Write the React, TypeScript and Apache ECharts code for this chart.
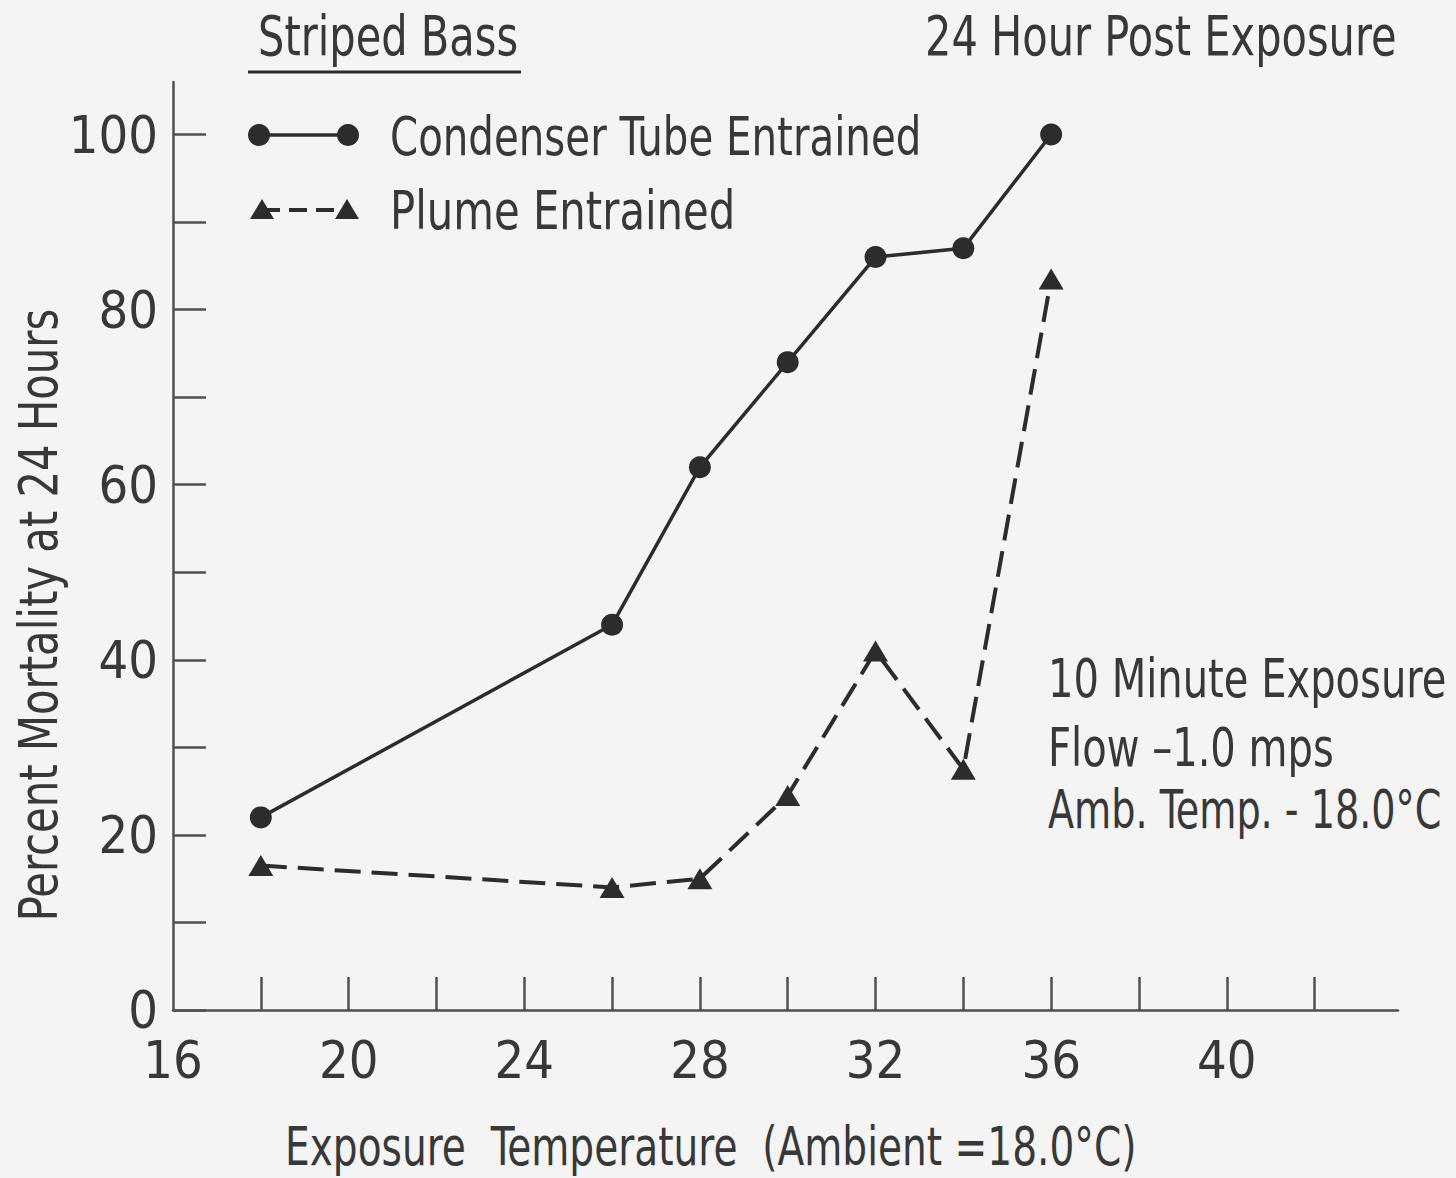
import React, { useEffect, useRef } from "react";
import * as echarts from "echarts";

// Striped bass mortality 24 h after a 10 minute exposure
const temperatures = [18, 26, 28, 30, 32, 34, 36];
const condenserTube = [22, 44, 62, 74, 86, 87, 100];
const plume = [16.5, 14, 15, 24.5, 41, 27.5, 83.5];

// Axis ticks and labelled values
const xTicks = [18, 20, 22, 24, 26, 28, 30, 32, 34, 36, 38, 40, 42];
const xLabels = [16, 20, 24, 28, 32, 36, 40];
const yTicks = [0, 10, 20, 30, 40, 50, 60, 70, 80, 90, 100];
const yLabels = [0, 20, 40, 60, 80, 100];

const FONT = '"Liberation Sans Narrow", "DejaVu Sans Condensed", "Roboto Condensed", sans-serif';
const INK = "#2c2c2c";
const TEXT = "#383838";
const AXIS = "#505050";
const PAPER = "#f4f4f4";
// lettering is drawn narrower than the installed faces
const NARROW = 0.84;

function pairs(ys: number[]) {
  return temperatures.map((t, i) => [t, ys[i]]);
}

export default function App() {
  const ref = useRef<HTMLDivElement>(null);

  useEffect(() => {
    document.body.style.margin = "0";
    document.body.style.background = PAPER;
    const chart = echarts.init(ref.current!, null, { renderer: "svg" });

    const text = (
      x: number,
      y: number,
      t: string,
      size = 54,
      scaleX = NARROW,
      extra: Record<string, unknown> = {}
    ) => ({
      type: "text",
      x,
      y,
      scaleX,
      ...extra,
      style: {
        text: t,
        fill: TEXT,
        font: `${size}px ${FONT}`,
        textAlign: (extra as any).align || "left",
        textVerticalAlign: "middle",
      },
    });

    chart.setOption({
      animation: false,
      backgroundColor: PAPER,
      grid: { left: 173, right: 58, top: 82, bottom: 168, outerBoundsMode: "none" },
      xAxis: {
        type: "value",
        min: 16,
        max: 43.9,
        axisLine: { lineStyle: { color: AXIS, width: 2.5 } },
        axisTick: {
          show: true,
          inside: true,
          length: 33,
          customValues: xTicks,
          lineStyle: { color: AXIS, width: 2.5 },
        },
        axisLabel: {
          customValues: xLabels,
          margin: 24,
          fontSize: 52,
          fontFamily: FONT,
          color: TEXT,
        },
        splitLine: { show: false },
      },
      yAxis: {
        type: "value",
        min: 0,
        max: 106,
        axisLine: { show: true, lineStyle: { color: AXIS, width: 2.5 } },
        axisTick: {
          show: true,
          inside: true,
          length: 33,
          customValues: yTicks,
          lineStyle: { color: AXIS, width: 2.5 },
        },
        axisLabel: {
          customValues: yLabels,
          margin: 15,
          fontSize: 52,
          fontFamily: FONT,
          color: TEXT,
        },
        splitLine: { show: false },
      },
      series: [
        {
          name: "Condenser Tube Entrained",
          type: "line",
          data: pairs(condenserTube),
          symbol: "circle",
          symbolSize: 22,
          itemStyle: { color: INK },
          lineStyle: { color: INK, width: 3.5 },
        },
        {
          name: "Plume Entrained",
          type: "line",
          data: pairs(plume),
          symbol: "triangle",
          symbolSize: [25, 21],
          itemStyle: { color: INK },
          lineStyle: { color: INK, width: 4, type: [26, 11] },
        },
      ],
      graphic: [
        // header
        text(258, 36, "Striped Bass", 55),
        {
          type: "line",
          shape: { x1: 248, y1: 72, x2: 521, y2: 72 },
          style: { stroke: INK, lineWidth: 3 },
        },
        text(925, 36, "24 Hour Post Exposure", 55),
        // legend
        {
          type: "line",
          shape: { x1: 262, y1: 135, x2: 347, y2: 135 },
          style: { stroke: INK, lineWidth: 3.5 },
        },
        { type: "circle", shape: { cx: 259, cy: 135, r: 11 }, style: { fill: INK } },
        { type: "circle", shape: { cx: 348, cy: 135, r: 11 }, style: { fill: INK } },
        text(390, 137, "Condenser Tube Entrained", 54, 0.83),
        {
          type: "line",
          shape: { x1: 262, y1: 210, x2: 347, y2: 210 },
          style: { stroke: INK, lineWidth: 4, lineDash: [18, 9] },
        },
        {
          type: "polygon",
          shape: { points: [[262, 199], [250, 219], [274, 219]] },
          style: { fill: INK },
        },
        {
          type: "polygon",
          shape: { points: [[347, 199], [335, 219], [359, 219]] },
          style: { fill: INK },
        },
        text(390, 210, "Plume Entrained", 54, 0.86),
        // test conditions
        text(1048, 679, "10 Minute Exposure", 53),
        text(1048, 748, "Flow –1.0 mps", 53),
        text(1048, 809, "Amb. Temp. - 18.0°C", 53, 0.8),
        // axis titles
        text(285, 1146, "Exposure  Temperature  (Ambient =18.0°C)", 53, 0.82),
        text(38, 615, "Percent Mortality at 24 Hours", 54, 0.86, {
          rotation: Math.PI / 2,
          align: "center",
        }),
      ],
    });

    return () => chart.dispose();
  }, []);

  return (
    <div
      ref={ref}
      style={{ position: "absolute", left: 0, top: 0, width: 1456, height: 1178 }}
    />
  );
}
